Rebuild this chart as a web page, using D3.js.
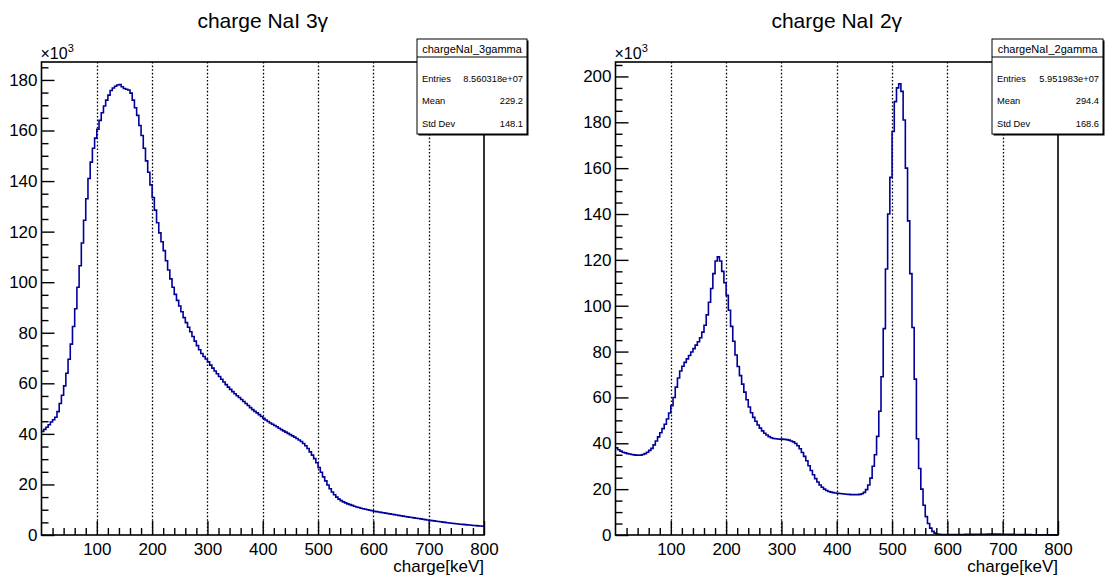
<!DOCTYPE html>
<html><head><meta charset="utf-8">
<script src="https://cdn.jsdelivr.net/npm/d3@7"></script>
<style>
html,body{margin:0;padding:0;background:#fff;}
svg{display:block;font-family:"Liberation Sans",Arial,Helvetica,sans-serif;}
</style></head><body>
<svg id="c" width="1106" height="581"></svg>
<script>
// Histogram binning (keV)
const binWidth = 4;
const xMin = 0, xMax = 800;

// Bin contents, in thousands of counts, one value per 4 keV bin
const counts3gamma = [
  41.0, 41.8, 42.6, 43.6, 44.7, 45.6, 46.6, 48.8, 52, 55.3,
  59, 64, 69.5, 75.5, 82.5, 89.5, 98, 106.5, 115.5, 124.5,
  133, 141, 147.5, 153, 157, 160.5, 164, 167, 169.7, 172,
  174, 175.8, 176.8, 177.5, 178, 178.2, 177.3, 176.6, 176.3, 176,
  174.8, 172, 169, 166, 162, 158, 153, 148, 143.5, 138.5,
  133.5, 128.5, 123.5, 119.5, 116, 112.5, 108.5, 104.8, 101.3, 98,
  95.2, 92.8, 90.6, 88.3, 86, 84, 82.2, 80.4, 78.5, 76.7,
  74.9, 73.3, 71.8, 70.6, 69.6, 68.5, 67.2, 66, 64.9, 63.8,
  62.7, 61.6, 60.5, 59.5, 58.5, 57.6, 56.7, 55.9, 55.1, 54.4,
  53.6, 52.8, 52, 51.2, 50.4, 49.6, 48.9, 48.3, 47.6, 46.9,
  46.2, 45.5, 44.9, 44.3, 43.8, 43.3, 42.8, 42.2, 41.7, 41.2,
  40.7, 40.2, 39.7, 39.2, 38.7, 38.2, 37.6, 37, 36.2, 35.3,
  34.2, 32.9, 31.6, 30.2, 28.6, 26.7, 24.8, 23, 21.4, 19.8,
  18.3, 17, 15.9, 15, 14.2, 13.6, 13.1, 12.7, 12.3, 12,
  11.7, 11.4, 11.1, 10.9, 10.6, 10.4, 10.2, 10, 9.8, 9.6,
  9.4, 9.25, 9.1, 8.95, 8.8, 8.65, 8.5, 8.35, 8.2, 8.05,
  7.9, 7.75, 7.6, 7.45, 7.3, 7.15, 7.0, 6.9, 6.78, 6.65,
  6.52, 6.38, 6.24, 6.1, 5.95, 5.82, 5.7, 5.58, 5.46, 5.34,
  5.22, 5.1, 4.98, 4.86, 4.75, 4.65, 4.55, 4.46, 4.37, 4.28,
  4.19, 4.1, 4.02, 3.94, 3.86, 3.78, 3.7, 3.62, 3.54, 3.46
];

const counts2gamma = [
  38.0, 37.2, 36.6, 36.1, 35.8, 35.5, 35.3, 35.1, 34.95, 34.85,
  34.8, 34.85, 35.1, 35.5, 36.1, 36.9, 37.8, 39.3, 41, 42.8,
  44.6, 46.4, 48.3, 50.6, 53.2, 56.4, 60, 64.5, 68.5, 71.5,
  73.6, 75.3, 76.8, 78.3, 79.8, 81.3, 82.8, 84.3, 86, 88.5,
  91.5, 96, 101.5, 107.5, 114, 119.5, 121.3, 119.5, 115, 110,
  104.5, 98, 91, 84.5, 78.5, 73.5, 69.5, 65.8, 62.3, 59,
  55.8, 53.3, 51.3, 49.6, 48, 46.6, 45.4, 44.4, 43.6, 42.9,
  42.4, 42.1, 42, 41.9, 41.8, 41.8, 41.7, 41.6, 41.4, 41,
  40.6, 39.9, 38.9, 37.6, 36, 34.3, 32.4, 30.2, 28.1, 26.3,
  24.6, 23.1, 21.8, 20.8, 20, 19.4, 19, 18.7, 18.5, 18.3,
  18.2, 18.1, 18, 17.9, 17.8, 17.7, 17.6, 17.6, 17.6, 17.6,
  17.7, 18, 18.6, 19.8, 21.8, 24.8, 30, 35, 43, 54,
  69, 90, 116, 140, 156, 176, 189, 195, 196.8, 193.5,
  181, 160, 137, 114, 90.5, 68, 42, 29, 20, 13,
  8, 5, 3, 1.6, 0.8, 0.45, 0.3, 0.25, 0.22, 0.2,
  0.2, 0.2, 0.2, 0.21, 0.22, 0.23, 0.24, 0.25, 0.26, 0.27,
  0.28, 0.29, 0.3, 0.31, 0.32, 0.33, 0.34, 0.36, 0.38, 0.39,
  0.4, 0.4, 0.39, 0.38, 0.36, 0.34, 0.32, 0.3, 0.28, 0.26,
  0.24, 0.22, 0.2, 0.19, 0.18, 0.17, 0.16, 0.15, 0.14, 0.13,
  0.12, 0.11, 0.1, 0.09, 0.08, 0.08, 0.07, 0.06, 0.06, 0.05
];

// Axis ticks
const xMajorTicks = [100, 200, 300, 400, 500, 600, 700, 800];
const xGridTicks = [100, 200, 300, 400, 500, 600, 700];
const yTicks3gamma = [0, 20, 40, 60, 80, 100, 120, 140, 160, 180];
const yTicks2gamma = [0, 20, 40, 60, 80, 100, 120, 140, 160, 180, 200];

// Text
const titles = ["charge NaI 3γ", "charge NaI 2γ"];
const xAxisTitle = "charge[keV]";
const statNames = ["chargeNaI_3gamma", "chargeNaI_2gamma"];
const statLabels = ["Entries", "Mean", "Std Dev"];
const stats3gamma = ["8.560318e+07", "229.2", "148.1"];
const stats2gamma = ["5.951983e+07", "294.4", "168.6"];

const panels = [
  { counts: counts3gamma, yTicks: yTicks3gamma, yMax: 187.1, title: titles[0],
    statName: statNames[0], stats: stats3gamma,
    frame: { left: 41.5, right: 484, top: 62, bottom: 535 },
    box: { x: 417, y: 39, w: 110, h: 95 } },
  { counts: counts2gamma, yTicks: yTicks2gamma, yMax: 206.3, title: titles[1],
    statName: statNames[1], stats: stats2gamma,
    frame: { left: 615.5, right: 1058, top: 62, bottom: 535 },
    box: { x: 992, y: 39, w: 111, h: 95 } }
];

const svg = d3.select("#c");
const lineColor = "#000099";

panels.forEach(p => {
  const f = p.frame;
  const x = d3.scaleLinear().domain([xMin, xMax]).range([f.left, f.right]);
  const y = d3.scaleLinear().domain([0, p.yMax]).range([f.bottom, f.top]);
  const g = svg.append("g");

  // dotted vertical grid, snapped to the pixel grid so the dots stay crisp
  g.append("g").selectAll("line").data(xGridTicks).join("line")
    .attr("x1", d => Math.round(x(d)) + 0.5).attr("x2", d => Math.round(x(d)) + 0.5)
    .attr("y1", f.top).attr("y2", f.bottom)
    .attr("stroke", "#000").attr("stroke-width", 1.3)
    .attr("stroke-dasharray", "1.6,2");

  // histogram drawn as steps
  const pts = p.counts.map((v, i) => [xMin + i * binWidth, v]);
  pts.push([xMax, p.counts[p.counts.length - 1]]);
  const line = d3.line().x(d => x(d[0])).y(d => y(d[1])).curve(d3.curveStepAfter);
  g.append("path").datum(pts).attr("d", line)
    .attr("fill", "none").attr("stroke", lineColor).attr("stroke-width", 1.6);

  // x axis: major ticks with labels, minor ticks every 20 keV
  const xAxis = d3.axisBottom(x).tickValues(xMajorTicks).tickSize(-14).tickPadding(8)
    .tickFormat(d3.format("d"));
  g.append("g").attr("transform", `translate(0,${f.bottom})`).call(xAxis);
  const xMinor = d3.range(20, 800, 20).filter(v => v % 100 !== 0);
  g.append("g").attr("transform", `translate(0,${f.bottom})`)
    .call(d3.axisBottom(x).tickValues(xMinor).tickSize(-7).tickFormat(""));

  // y axis: major ticks with labels, minor ticks every 5
  const yAxis = d3.axisLeft(y).tickValues(p.yTicks).tickSize(-13).tickPadding(4)
    .tickFormat(d3.format("d"));
  g.append("g").attr("transform", `translate(${f.left},0)`).call(yAxis);
  const yMinor = d3.range(5, p.yMax, 5).filter(v => v % 20 !== 0);
  g.append("g").attr("transform", `translate(${f.left},0)`)
    .call(d3.axisLeft(y).tickValues(yMinor).tickSize(-7).tickFormat(""));

  g.selectAll(".domain").remove();
  g.selectAll(".tick line").attr("stroke", "#000").attr("stroke-width", 1.4);
  g.selectAll(".tick text").attr("fill", "#000")
    .style("font-family", '"Liberation Sans",Arial,sans-serif').style("font-size", "17px");

  // frame
  g.append("rect").attr("x", f.left).attr("y", f.top)
    .attr("width", f.right - f.left).attr("height", f.bottom - f.top)
    .attr("fill", "none").attr("stroke", "#000").attr("stroke-width", 1.6);

  // exponent marker on the y axis
  const ex = g.append("text").attr("x", f.left - 1).attr("y", f.top - 3)
    .attr("font-size", 16).attr("fill", "#000");
  ex.append("tspan").text("×10");
  ex.append("tspan").attr("dy", -7).attr("font-size", 11).text("3");

  // axis title
  g.append("text").attr("x", f.right).attr("y", 572).attr("text-anchor", "end")
    .attr("font-size", 17).attr("fill", "#000").text(xAxisTitle);

  // histogram title
  g.append("text").attr("x", (f.left + f.right) / 2).attr("y", 28)
    .attr("text-anchor", "middle").attr("font-size", 21).attr("fill", "#000").text(p.title);

  // statistics box
  const b = p.box;
  g.append("rect").attr("x", b.x + 1.5).attr("y", b.y + 1.5).attr("width", b.w).attr("height", b.h)
    .attr("fill", "#000");
  g.append("rect").attr("x", b.x).attr("y", b.y).attr("width", b.w).attr("height", b.h)
    .attr("fill", "#fff").attr("stroke", "#000").attr("stroke-width", 1);
  g.append("line").attr("x1", b.x).attr("x2", b.x + b.w).attr("y1", b.y + 18).attr("y2", b.y + 18)
    .attr("stroke", "#000").attr("stroke-width", 1);
  g.append("text").attr("x", b.x + b.w / 2).attr("y", b.y + 14).attr("text-anchor", "middle")
    .attr("font-size", 11).attr("fill", "#000").text(p.statName);
  const rowY = [42.5, 65, 87.5];
  statLabels.forEach((lab, i) => {
    g.append("text").attr("x", b.x + 5).attr("y", b.y + rowY[i]).attr("font-size", 9.3)
      .attr("fill", "#000").text(lab);
    g.append("text").attr("x", b.x + b.w - 4).attr("y", b.y + rowY[i]).attr("text-anchor", "end")
      .attr("font-size", 9.3).attr("fill", "#000").text(p.stats[i]);
  });
});
</script>
</body></html>
